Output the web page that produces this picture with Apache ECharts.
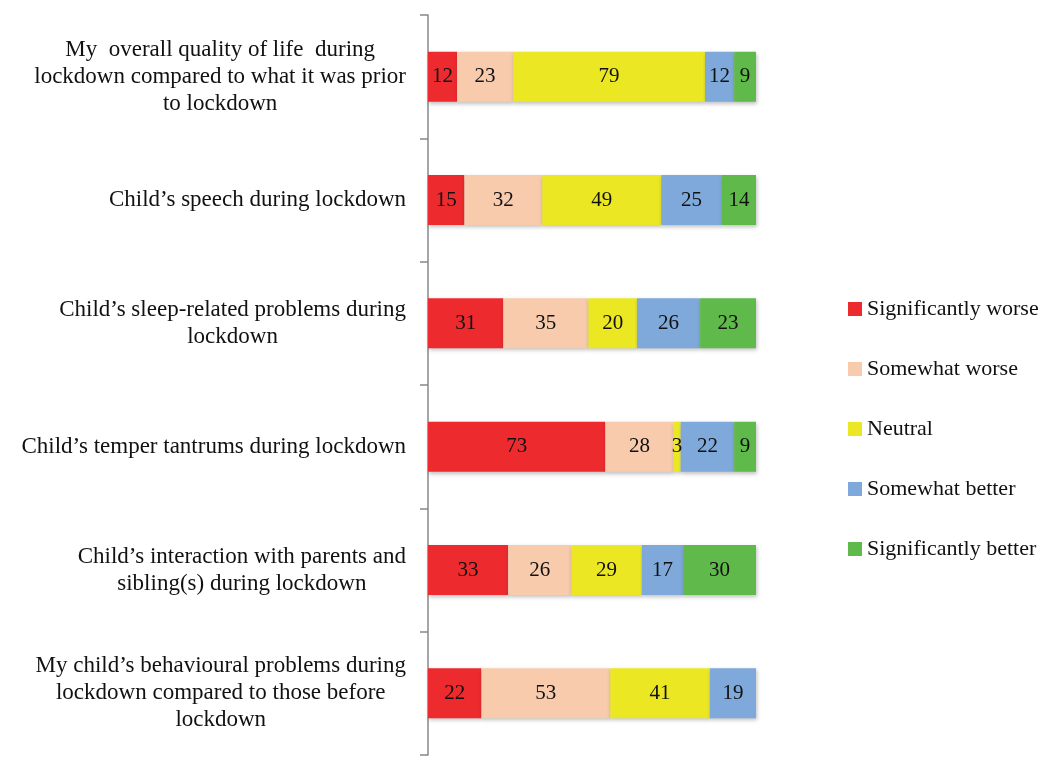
<!DOCTYPE html>
<html>
<head>
<meta charset="utf-8">
<script src="https://cdn.jsdelivr.net/npm/echarts@6/dist/echarts.min.js"></script>
<style>
  html, body { margin: 0; padding: 0; background: #fff; }
  #chart { width: 1047px; height: 757px; }
</style>
</head>
<body>
<div id="chart"></div>
<script>
// categories, top to bottom
const categories = [
  'My  overall quality of life  during\nlockdown compared to what it was prior\nto lockdown',
  'Child\u2019s speech during lockdown',
  'Child\u2019s sleep-related problems during\nlockdown',
  'Child\u2019s temper tantrums during lockdown',
  'Child\u2019s interaction with parents and\nsibling(s) during lockdown',
  'My child\u2019s behavioural problems during\nlockdown compared to those before\nlockdown'
]

const seriesNames = ['Significantly worse', 'Somewhat worse', 'Neutral', 'Somewhat better', 'Significantly better']
const sigWorse = [12, 15, 31, 73, 33, 22]
const someWorse = [23, 32, 35, 28, 26, 53]
const neutral = [79, 49, 20, 3, 29, 41]
const someBetter = [12, 25, 26, 22, 17, 19]
const sigBetter = [9, 14, 23, 9, 30, 0]

const colors = ['#ed2b2e', '#f8cbad', '#ebe823', '#7ea9da', '#5fb94b']
const values = [sigWorse, someWorse, neutral, someBetter, sigBetter]

const font = '"Liberation Serif", "DejaVu Serif", serif'

const chart = echarts.init(document.getElementById('chart'))

const series = seriesNames.map((name, i) => ({
  name,
  type: 'bar',
  stack: 'total',
  barWidth: 50,
  data: values[i],
  itemStyle: {
    color: colors[i],
    shadowColor: 'rgba(0, 0, 0, 0.25)',
    shadowBlur: 4,
    shadowOffsetX: 1,
    shadowOffsetY: 2
  },
  label: {
    show: true,
    position: 'inside',
    color: '#111',
    fontFamily: font,
    fontSize: 21,
    formatter: p => (p.value ? p.value : '')
  }
}))

chart.setOption({
  animation: false,
  grid: {
    left: 428,
    right: 291,
    top: 15,
    bottom: 2
  },
  legend: {
    orient: 'vertical',
    left: 843,
    top: 293,
    itemWidth: 14,
    itemHeight: 14,
    itemGap: 38,
    icon: 'rect',
    textStyle: {
      fontFamily: font,
      fontSize: 22,
      color: '#111'
    },
    data: seriesNames
  },
  xAxis: {
    type: 'value',
    min: 0,
    max: 135,
    show: false
  },
  yAxis: {
    type: 'category',
    inverse: true,
    data: categories,
    axisLine: { lineStyle: { color: '#888', width: 1.5 } },
    axisTick: { show: true, length: 8, lineStyle: { color: '#888', width: 1.5 } },
    axisLabel: {
      margin: 22,
      formatter: v => '{a|' + v + '}',
      rich: {
        a: {
          align: 'center',
          fontFamily: font,
          fontSize: 23,
          lineHeight: 27,
          color: '#111'
        }
      }
    }
  },
  series
})

window.addEventListener('resize', () => chart.resize())
</script>
</body>
</html>
